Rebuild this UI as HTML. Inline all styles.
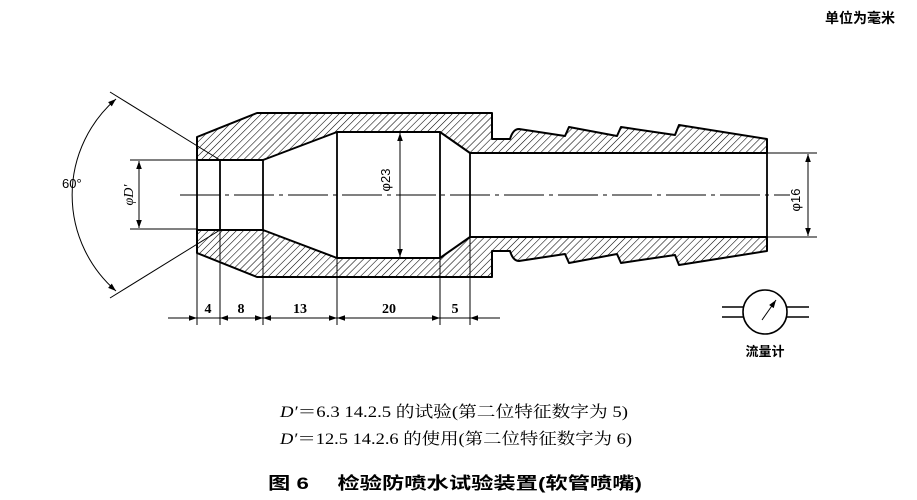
<!DOCTYPE html>
<html><head><meta charset="utf-8"><style>
html,body{margin:0;padding:0;background:#fff;width:917px;height:500px;overflow:hidden}
svg{display:block}
</style></head><body>
<svg width="917" height="500" viewBox="0 0 917 500" xmlns="http://www.w3.org/2000/svg" font-family="'Liberation Serif','Noto Serif CJK SC',serif">
<defs>
<pattern id="h" patternUnits="userSpaceOnUse" width="5" height="5" patternTransform="rotate(45)">
<line x1="0" y1="0" x2="0" y2="5" stroke="#000" stroke-width="1.1"/>
</pattern>
<marker id="a" viewBox="0 0 10 10" refX="10" refY="5" markerWidth="10" markerHeight="8" orient="auto-start-reverse" markerUnits="userSpaceOnUse"><path d="M0,1.5 L10,5 L0,8.5 Z" fill="#000"/></marker>
</defs>
<g stroke="#000" stroke-width="2" fill="url(#h)" stroke-linejoin="round">
<path d="M197,137 L257,113 L492,113 L492,139 L510,139 Q513,129 519,129 L565,136 L569,127 L617,136 L621,127 L675,135 L679,125 L767,139 L767,153 L470,153 L440,132 L337,132 L263,160 L197,160 Z"/>
<path d="M197,253 L257,277 L492,277 L492,251 L510,251 Q513,261 519,261 L565,254 L569,263 L617,254 L621,263 L675,255 L679,265 L767,251 L767,237 L470,237 L440,258 L337,258 L263,230 L197,230 Z"/>
</g>
<g stroke="#000" stroke-width="1.8" fill="none">
<line x1="197" y1="160" x2="197" y2="230"/>
<line x1="220" y1="160" x2="220" y2="230"/>
<line x1="263" y1="160" x2="263" y2="230"/>
<line x1="337" y1="132" x2="337" y2="258"/>
<line x1="440" y1="132" x2="440" y2="258"/>
<line x1="470" y1="153" x2="470" y2="237"/>
<line x1="767" y1="153" x2="767" y2="237"/>
</g>
<g stroke="#000" stroke-width="1" fill="none">
<line x1="180" y1="195" x2="790" y2="195" stroke-dasharray="40,5,4,5"/>
<line x1="110" y1="92" x2="220" y2="160"/>
<line x1="110" y1="298" x2="220" y2="230"/>
<path d="M116,99 A127,127 0 0 0 116,291" marker-start="url(#a)" marker-end="url(#a)"/>
<line x1="130" y1="160" x2="197" y2="160"/>
<line x1="130" y1="229" x2="197" y2="229"/>
<line x1="139" y1="161" x2="139" y2="228" marker-start="url(#a)" marker-end="url(#a)"/>
<line x1="400" y1="133" x2="400" y2="257" marker-start="url(#a)" marker-end="url(#a)"/>
<line x1="767" y1="153" x2="817" y2="153"/>
<line x1="767" y1="237" x2="817" y2="237"/>
<line x1="808" y1="154" x2="808" y2="236" marker-start="url(#a)" marker-end="url(#a)"/>
<line x1="197" y1="253" x2="197" y2="325"/>
<line x1="220" y1="230" x2="220" y2="325"/>
<line x1="263" y1="230" x2="263" y2="325"/>
<line x1="337" y1="258" x2="337" y2="325"/>
<line x1="440" y1="258" x2="440" y2="325"/>
<line x1="470" y1="237" x2="470" y2="325"/>
<line x1="168" y1="318" x2="197" y2="318" marker-end="url(#a)"/>
<line x1="220" y1="318" x2="263" y2="318" marker-start="url(#a)" marker-end="url(#a)"/>
<line x1="263" y1="318" x2="337" y2="318" marker-start="url(#a)" marker-end="url(#a)"/>
<line x1="337" y1="318" x2="440" y2="318" marker-start="url(#a)" marker-end="url(#a)"/>
<line x1="500" y1="318" x2="470" y2="318" marker-end="url(#a)"/>
<line x1="197" y1="318" x2="220" y2="318"/>
<line x1="440" y1="318" x2="470" y2="318"/>
<circle cx="765" cy="312" r="22" stroke-width="1.6"/>
<line x1="722" y1="307" x2="743" y2="307" stroke-width="1.5"/>
<line x1="722" y1="317" x2="743" y2="317" stroke-width="1.5"/>
<line x1="787" y1="307" x2="809" y2="307" stroke-width="1.5"/>
<line x1="787" y1="317" x2="809" y2="317" stroke-width="1.5"/>
<line x1="762" y1="320" x2="776" y2="300" marker-end="url(#a)"/>
</g>
<g font-size="14" fill="#000">
<text x="62" y="188" font-family="'Liberation Sans',sans-serif" font-size="13">60°</text>
<text transform="translate(133,195) rotate(-90)" text-anchor="middle" font-style="italic">φD′</text>
<text transform="translate(390,180) rotate(-90)" text-anchor="middle" font-family="'Liberation Sans',sans-serif" font-size="13">φ23</text>
<text transform="translate(800,200) rotate(-90)" text-anchor="middle" font-family="'Liberation Sans',sans-serif" font-size="13">φ16</text>
<g font-weight="bold" text-anchor="middle" font-size="14">
<text x="208" y="313">4</text><text x="241" y="313">8</text><text x="300" y="313">13</text><text x="389" y="313">20</text><text x="455" y="313">5</text>
</g>
<text x="765" y="356" text-anchor="middle" font-weight="bold" font-size="13" font-family="'Liberation Sans','Noto Sans CJK SC',sans-serif">流量计</text>
<text x="895" y="23" text-anchor="end" font-weight="bold" font-size="14" font-family="'Liberation Sans','Noto Sans CJK SC',sans-serif">单位为毫米</text>
<text x="280" y="417" font-size="16" textLength="348" lengthAdjust="spacingAndGlyphs"><tspan font-style="italic">D′</tspan>＝6.3 14.2.5 的试验(第二位特征数字为 5)</text>
<text x="280" y="444" font-size="16" textLength="352" lengthAdjust="spacingAndGlyphs"><tspan font-style="italic">D′</tspan>＝12.5 14.2.6 的使用(第二位特征数字为 6)</text>
<text x="268" y="489" font-size="17" font-weight="bold" font-family="'Liberation Sans','Noto Sans CJK SC',sans-serif" textLength="374" lengthAdjust="spacingAndGlyphs">图 6　 检验防喷水试验装置(软管喷嘴)</text>
</g>
</svg>
</body></html>
